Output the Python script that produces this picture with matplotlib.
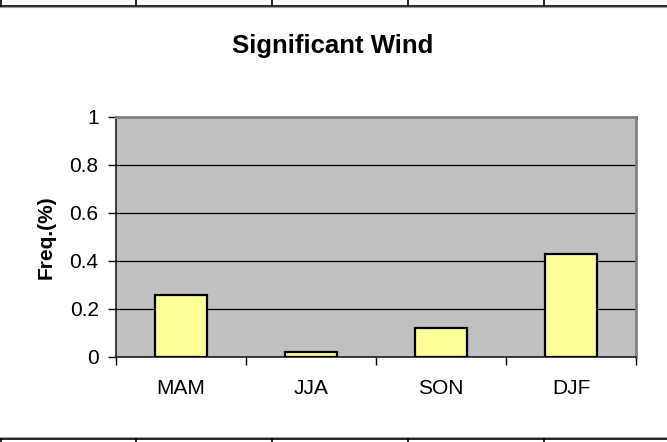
import matplotlib
matplotlib.use("Agg")
import matplotlib.pyplot as plt
from matplotlib.lines import Line2D

categories = ["MAM", "JJA", "SON", "DJF"]
values = [0.26, 0.02, 0.12, 0.43]
yticks = [0, 0.2, 0.4, 0.6, 0.8, 1]
ytick_labels = ["0", "0.2", "0.4", "0.6", "0.8", "1"]
title = "Significant Wind"
ylabel = "Freq.(%)"

plt.rcParams['font.family'] = ['Liberation Sans', 'DejaVu Sans']

W, H = 667, 442
fig = plt.figure(figsize=(W / 100, H / 100), dpi=100)
fig.patch.set_facecolor("white")

ax = fig.add_axes([116 / W, 1 - 357 / H, 520 / W, 240 / H])
ax.set_facecolor("#C0C0C0")
x = list(range(len(categories)))
ax.bar(x, values, width=0.4, color="#FFFF99", edgecolor="black", linewidth=1.6, zorder=3)
ax.set_xlim(-0.5, len(categories) - 0.5)
ax.set_ylim(0, 1)
ax.set_yticks(yticks)
ax.set_yticklabels(ytick_labels)
ax.yaxis.grid(True, color="black", linewidth=0.9, zorder=1)
ax.set_axisbelow(True)

# category labels centered, ticks at boundaries
ax.set_xticks(x)
ax.set_xticklabels(categories)
ax.tick_params(axis="x", which="major", length=0, pad=16, labelsize=15)
ax.set_xticks([i - 0.5 for i in range(len(categories) + 1)], minor=True)
ax.tick_params(axis="x", which="minor", length=6, width=1, color="black", direction="out")
ax.tick_params(axis="y", length=6, width=1, color="black", pad=6.5, labelsize=15)

for s in ["top", "right"]:
    ax.spines[s].set_color("#808080")
    ax.spines[s].set_linewidth(2)
for s in ["left", "bottom"]:
    ax.spines[s].set_color("#202020")
    ax.spines[s].set_linewidth(1.2)

ax.set_ylabel(ylabel, fontsize=15, fontweight="bold", labelpad=10)

fig.text(333 / W, 1 - 46 / H, title, ha="center", va="center", fontsize=18.5, fontweight="bold")

# spreadsheet cell borders at top and bottom
def fy(py):
    return 1 - py / H

cols = [0.5, 136, 272, 408, 544]
fig.add_artist(Line2D([0, 1], [fy(5.5), fy(5.5)], color="black", linewidth=1.2, transform=fig.transFigure))
fig.add_artist(Line2D([0, 1], [fy(6.8), fy(6.8)], color="#A0A0A0", linewidth=0.8, transform=fig.transFigure))
fig.add_artist(Line2D([0, 1], [fy(437), fy(437)], color="#A0A0A0", linewidth=0.8, transform=fig.transFigure))
fig.add_artist(Line2D([0, 1], [fy(438.8), fy(438.8)], color="black", linewidth=1.2, transform=fig.transFigure))
for c in cols:
    fig.add_artist(Line2D([c / W, c / W], [fy(0), fy(5.5)], color="black", linewidth=1.2, transform=fig.transFigure))
    fig.add_artist(Line2D([c / W, c / W], [fy(438.8), fy(442)], color="black", linewidth=1.2, transform=fig.transFigure))

fig.savefig("out.png", dpi=100)
